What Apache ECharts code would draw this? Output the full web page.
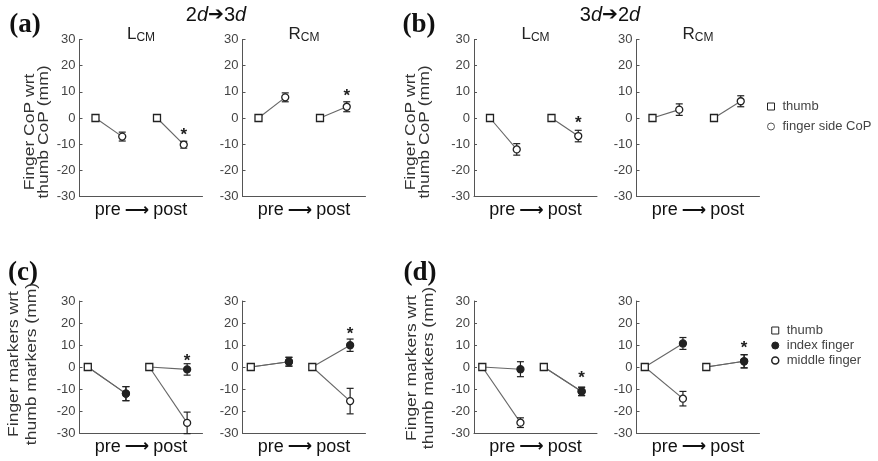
<!DOCTYPE html>
<html>
<head>
<meta charset="utf-8">
<script src="https://cdn.jsdelivr.net/npm/echarts@6/dist/echarts.min.js"></script>
<style>
  html, body { margin: 0; padding: 0; background: #fff; }
  #main { width: 878px; height: 461px; }
</style>
</head>
<body>
<div id="main"></div>
<script>
// x positions of the markers on a 0..4 axis (pre group around 1, post around 3)
var topThumbX = [0.52, 2.52];
var topFingerX = [1.39, 3.39];
var botThumbX = [0.27, 2.27];
var botFingerX = [1.51, 3.5];

var groups = ['pre', 'post'];
var yTicks = [-30, 30, 10]; // min, max, step

// (a) 2d->3d  finger side CoP wrt thumb CoP (mm), [pre, post]
var aL_cop = [-7.1, -10.2], aL_err = [1.7, 1.3], aL_star = [null, -5.1];
var aR_cop = [7.9, 4.3],    aR_err = [1.7, 1.9], aR_star = [null, 9.8];
// (b) 3d->2d
var bL_cop = [-12.0, -6.9], bL_err = [2.2, 2.2], bL_star = [null, -0.4];
var bR_cop = [3.2, 6.4],    bR_err = [2.2, 2.1], bR_star = [null, null];

// (c) 2d->3d  finger markers wrt thumb markers (mm)
var cL_index = [-12.1, -1.1],  cL_indexErr = [3.2, 2.6];
var cL_middle = [-12.1, -25.4], cL_middleErr = [3.2, 4.9];
var cL_star = [null, 4.6];
var cR_index = [2.4, 9.9],     cR_indexErr = [2.0, 2.8];
var cR_middle = [2.4, -15.5],  cR_middleErr = [2.0, 5.8];
var cR_star = [null, 16.7];
// (d) 3d->2d
var dL_index = [-1.0, -11.1],  dL_indexErr = [3.4, 1.9];
var dL_middle = [-25.3, -11.1], dL_middleErr = [2.2, 1.9];
var dL_star = [null, -3.3];
var dR_index = [10.7, 2.6],    dR_indexErr = [2.7, 3.0];
var dR_middle = [-14.4, 2.6],  dR_middleErr = [3.3, 3.0];
var dR_star = [null, 10.2];

var FONT = 'Liberation Sans, Arial, DejaVu Sans, sans-serif';
var INK = '#222';
var AXIS = '#555';

var gridLefts = [79.5, 242.5, 474, 636.5];
var gridW = 123;
var rows = [{ top: 39.5, height: 157 }, { top: 301, height: 132 }];

var panels = [
  { thumbX: topThumbX, fingerX: topFingerX, star: aL_star,
    fingers: [{ name: 'finger side CoP', val: aL_cop, err: aL_err, fill: '#fff' }] },
  { thumbX: topThumbX, fingerX: topFingerX, star: aR_star,
    fingers: [{ name: 'finger side CoP', val: aR_cop, err: aR_err, fill: '#fff' }] },
  { thumbX: topThumbX, fingerX: topFingerX, star: bL_star,
    fingers: [{ name: 'finger side CoP', val: bL_cop, err: bL_err, fill: '#fff' }] },
  { thumbX: topThumbX, fingerX: topFingerX, star: bR_star,
    fingers: [{ name: 'finger side CoP', val: bR_cop, err: bR_err, fill: '#fff' }] },
  { thumbX: botThumbX, fingerX: botFingerX, star: cL_star,
    fingers: [{ name: 'middle finger', val: cL_middle, err: cL_middleErr, fill: '#fff' },
              { name: 'index finger', val: cL_index, err: cL_indexErr, fill: INK }] },
  { thumbX: botThumbX, fingerX: botFingerX, star: cR_star,
    fingers: [{ name: 'middle finger', val: cR_middle, err: cR_middleErr, fill: '#fff' },
              { name: 'index finger', val: cR_index, err: cR_indexErr, fill: INK }] },
  { thumbX: botThumbX, fingerX: botFingerX, star: dL_star,
    fingers: [{ name: 'middle finger', val: dL_middle, err: dL_middleErr, fill: '#fff' },
              { name: 'index finger', val: dL_index, err: dL_indexErr, fill: INK }] },
  { thumbX: botThumbX, fingerX: botFingerX, star: dR_star,
    fingers: [{ name: 'middle finger', val: dR_middle, err: dR_middleErr, fill: '#fff' },
              { name: 'index finger', val: dR_index, err: dR_indexErr, fill: INK }] }
];

var grid = [], xAxis = [], yAxis = [], series = [];

function renderErr(params, api) {
  var x = api.value(0), y = api.value(1), e = api.value(2);
  var lo = api.coord([x, y - e]);
  var hi = api.coord([x, y + e]);
  var w = 3.5;
  var st = { stroke: INK, lineWidth: 1.2 };
  return {
    type: 'group',
    children: [
      { type: 'line', shape: { x1: lo[0], y1: lo[1], x2: hi[0], y2: hi[1] }, style: st },
      { type: 'line', shape: { x1: lo[0] - w, y1: lo[1], x2: lo[0] + w, y2: lo[1] }, style: st },
      { type: 'line', shape: { x1: hi[0] - w, y1: hi[1], x2: hi[0] + w, y2: hi[1] }, style: st }
    ]
  };
}

function renderStar(params, api) {
  var p = api.coord([api.value(0), api.value(1)]);
  return {
    type: 'text',
    x: p[0], y: p[1] + 4,
    style: { text: '*', fill: INK, font: 'bold 17px ' + FONT, align: 'center', verticalAlign: 'middle' }
  };
}

panels.forEach(function (pn, i) {
  var row = rows[i < 4 ? 0 : 1];
  grid.push({ left: gridLefts[i % 4], top: row.top, width: gridW, height: row.height });
  // hidden value axis used for placing the marks
  xAxis.push({ type: 'value', gridIndex: i, position: 'top', min: 0, max: 4, show: false });
  // visible category axis: line, two ticks and the "pre -> post" caption
  xAxis.push({
    type: 'category', gridIndex: i, position: 'bottom', data: groups, boundaryGap: true,
    axisLine: { lineStyle: { color: AXIS, width: 1 } },
    axisTick: { alignWithLabel: true, inside: true, length: 3, lineStyle: { color: AXIS } },
    axisLabel: { show: false },
    name: '{t|pre}{a|\u27F6}{t|post}', nameLocation: 'middle', nameGap: 5,
    nameTextStyle: {
      verticalAlign: 'top',
      rich: {
        t: { fontSize: 18, color: '#111', fontFamily: FONT },
        a: { fontSize: 17, color: '#111', fontFamily: 'DejaVu Sans', fontWeight: 'bold', padding: [0, 4, 0, 4] }
      }
    }
  });
  yAxis.push({
    type: 'value', gridIndex: i, min: yTicks[0], max: yTicks[1], interval: yTicks[2],
    axisLine: { show: true, lineStyle: { color: AXIS, width: 1 } },
    axisTick: { show: true, inside: true, length: 3, lineStyle: { color: AXIS } },
    splitLine: { show: false },
    axisLabel: { fontSize: 13, color: '#444', margin: 4, fontFamily: FONT }
  });
  var vx = i * 2;

  // connecting lines thumb -> finger
  pn.fingers.forEach(function (f) {
    for (var g = 0; g < 2; g++) {
      series.push({
        type: 'line', xAxisIndex: vx, yAxisIndex: i, symbol: 'none', silent: true, z: 1,
        lineStyle: { color: '#666', width: 1.1 },
        data: [[pn.thumbX[g], 0], [pn.fingerX[g], f.val[g]]]
      });
    }
  });
  // error bars + markers
  pn.fingers.forEach(function (f, k) {
    series.push({
      type: 'custom', xAxisIndex: vx, yAxisIndex: i, z: 2 + k * 2, renderItem: renderErr, clip: false,
      data: groups.map(function (_, g) { return [pn.fingerX[g], f.val[g], f.err[g]]; })
    });
    series.push({
      type: 'scatter', name: f.name, xAxisIndex: vx, yAxisIndex: i, z: 3 + k * 2,
      symbol: 'circle', symbolSize: 7,
      itemStyle: { color: f.fill, borderColor: INK, borderWidth: 1.3, opacity: 1 },
      data: groups.map(function (_, g) { return [pn.fingerX[g], f.val[g]]; })
    });
  });
  series.push({
    type: 'scatter', name: 'thumb', xAxisIndex: vx, yAxisIndex: i, z: 8,
    symbol: 'rect', symbolSize: 7,
    itemStyle: { color: '#fff', borderColor: INK, borderWidth: 1.3, opacity: 1 },
    data: groups.map(function (_, g) { return [pn.thumbX[g], 0]; })
  });
  var stars = [];
  pn.star.forEach(function (s, g) { if (s !== null) stars.push([pn.fingerX[g], s]); });
  if (stars.length) {
    series.push({ type: 'custom', xAxisIndex: vx, yAxisIndex: i, z: 9, renderItem: renderStar, clip: false, data: stars });
  }
});

function sub(main, s, cx, cy) {
  return {
    type: 'text', x: cx, y: cy,
    style: {
      text: '{m|' + main + '}{s|' + s + '}', align: 'center', verticalAlign: 'middle',
      rich: {
        m: { fontSize: 17, fontFamily: FONT, fill: '#222' },
        s: { fontSize: 12, fontFamily: FONT, fill: '#222', padding: [8, 0, 0, 0] }
      }
    }
  };
}
function header(a, b, cx) {
  return {
    type: 'text', x: cx, y: 15,
    style: {
      text: '{n|' + a + '}{i|d}{r|\u2794}{n|' + b + '}{i|d}', align: 'center', verticalAlign: 'middle',
      rich: {
        n: { fontSize: 20, fontFamily: FONT, fill: '#111' },
        i: { fontSize: 20, fontFamily: FONT, fontStyle: 'italic', fill: '#111' },
        r: { fontSize: 19, fontFamily: 'DejaVu Sans', fill: '#111' }
      }
    }
  };
}
function letter(t, cx, cy) {
  return {
    type: 'text', x: cx, y: cy,
    style: { text: t, font: 'bold 27px Liberation Serif, DejaVu Serif, serif', fill: '#111', align: 'center', verticalAlign: 'middle' }
  };
}
function ylab(t, cx, cy, size, lh) {
  return {
    type: 'text', x: cx, y: cy, rotation: Math.PI / 2, scaleX: 1.25,
    style: { text: t, font: size + 'px ' + FONT, lineHeight: lh, fill: '#333', align: 'center', verticalAlign: 'middle' }
  };
}

var graphic = [
  letter('(a)', 25, 25), letter('(b)', 419, 25), letter('(c)', 23, 273), letter('(d)', 420, 273),
  header('2', '3', 216), header('3', '2', 610),
  sub('L', 'CM', gridLefts[0] + gridW / 2, 34), sub('R', 'CM', gridLefts[1] + gridW / 2, 34),
  sub('L', 'CM', gridLefts[2] + gridW / 2, 34), sub('R', 'CM', gridLefts[3] + gridW / 2, 34),
  ylab('Finger CoP wrt\nthumb CoP (mm)', 37, 132, 14, 14),
  ylab('Finger CoP wrt\nthumb CoP (mm)', 418, 132, 14, 14),
  ylab('Finger markers wrt\nthumb markers (mm)', 23, 364, 14, 18),
  ylab('Finger markers wrt\nthumb markers (mm)', 421, 368, 14, 17)
];

var legendText = { fontSize: 13, color: '#444', fontFamily: FONT, padding: [0, 0, 0, 3] };
var openSq = { color: '#fff', borderColor: INK, borderWidth: 1 };
var openCi = { color: '#fff', borderColor: '#555', borderWidth: 1 };

var chart = echarts.init(document.getElementById('main'));
chart.setOption({
  animation: false,
  grid: grid,
  xAxis: xAxis,
  yAxis: yAxis,
  graphic: graphic,
  legend: [
    {
      orient: 'vertical', left: 767, top: 100, itemWidth: 7, itemHeight: 7, itemGap: 7,
      selectedMode: false, padding: 0, textStyle: legendText,
      data: [
        { name: 'thumb', icon: 'rect', itemStyle: openSq },
        { name: 'finger side CoP', icon: 'circle', itemStyle: openCi }
      ]
    },
    {
      orient: 'vertical', left: 771, top: 324, itemWidth: 7, itemHeight: 7, itemGap: 2,
      selectedMode: false, padding: 0, textStyle: legendText,
      data: [
        { name: 'thumb', icon: 'rect', itemStyle: openSq },
        { name: 'index finger', icon: 'circle', itemStyle: { color: INK, borderColor: INK, borderWidth: 1 } },
        { name: 'middle finger', icon: 'circle', itemStyle: { color: '#fff', borderColor: INK, borderWidth: 1.5 } }
      ]
    }
  ],
  series: series
});
</script>
</body>
</html>
